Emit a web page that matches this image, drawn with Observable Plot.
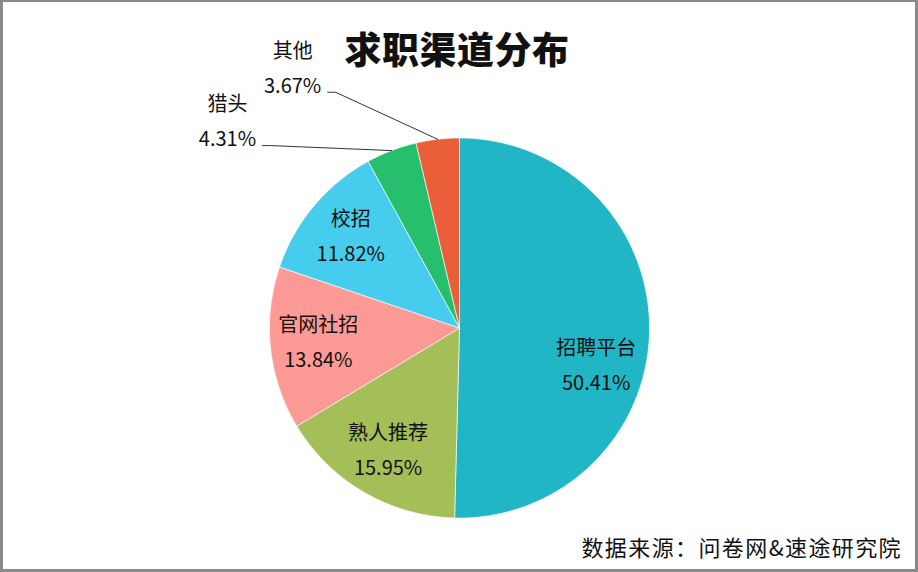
<!DOCTYPE html>
<html>
<head>
<meta charset="utf-8">
<script src="https://cdn.jsdelivr.net/npm/d3@7"></script>
<script src="https://cdn.jsdelivr.net/npm/@observablehq/plot@0.6"></script>
<style>
  html, body { margin: 0; padding: 0; background: #fff; }
  #wrap { position: relative; width: 918px; height: 572px; overflow: hidden; font-family: "Noto Sans CJK SC", "Noto Sans", sans-serif; }
  #wrap svg { position: absolute; left: 0; top: 0; }
  #frame { position: absolute; left: 0; top: 0; width: 918px; height: 572px; box-sizing: border-box;
           border: 3px solid #898989; border-top-width: 2px; pointer-events: none; }
  #title { position: absolute; left: 0; width: 914px; top: 30px; text-align: center; font-size: 37px; font-weight: 900; line-height: 37px; color: #111; letter-spacing: 0.5px; }
  #caption { position: absolute; right: 16px; top: 535px; font-size: 22px; line-height: 22px; color: #111; letter-spacing: 1.4px; }
</style>
</head>
<body>
<div id="wrap">
  <div id="title">求职渠道分布</div>
  <div id="caption">数据来源：问卷网&amp;速途研究院</div>
  <div id="frame"></div>
</div>
<script>
// ---- data ----
const categories = ["招聘平台", "熟人推荐", "官网社招", "校招", "猎头", "其他"];
const shares = [50.41, 15.95, 13.84, 11.82, 4.31, 3.67];
const colors = ["#21b6c6", "#a4be58", "#fd9a96", "#46cdee", "#26bf6e", "#ea5f3a"];
const outsideLabels = ["猎头", "其他"];

// ---- layout constants ----
const W = 918, H = 572;
const cx = 459, cy = 327.5, R = 190;
const labelR = 142;
const labelNudgeDeg = {"招聘平台": 15};          // best-fit label shift for the big slice
const outsideElbow = {"猎头": [-121, -5], "其他": [-102, -47]}; // relative to arc point
const lineGap = 35;

const rows = categories.map((c, i) => ({name: c, value: shares[i]}));
const arcs = d3.pie().sort(null).value(d => d.value)(rows);

const polar = (theta, r) => [r * Math.sin(theta), -r * Math.cos(theta)];

// slice polygons
const poly = [];
for (const a of arcs) {
  const n = Math.max(2, Math.ceil((a.endAngle - a.startAngle) / (Math.PI / 360)));
  poly.push({name: a.data.name, x: 0, y: 0});
  for (let k = 0; k <= n; k++) {
    const t = a.startAngle + (a.endAngle - a.startAngle) * k / n;
    const [x, y] = polar(t, R);
    poly.push({name: a.data.name, x, y});
  }
  poly.push({name: a.data.name, x: 0, y: 0});
}

// labels
const labels = [];
const leaders = [];
for (const a of arcs) {
  const name = a.data.name;
  const pct = a.data.value.toFixed(2) + "%";
  const mid = (a.startAngle + a.endAngle) / 2;
  if (outsideLabels.includes(name)) {
    const [ax, ay] = polar(mid, R);
    const [ex, ey] = [ax + outsideElbow[name][0], ay + outsideElbow[name][1]];
    const [tx, ty] = [ex - 8, ey];
    leaders.push({name, x: ax, y: ay, i: 0}, {name, x: ex, y: ey, i: 1}, {name, x: tx, y: ty, i: 2});
    const lx = tx - 35, ly = ty - 23;
    labels.push({text: name, x: lx, y: ly - lineGap / 2});
    labels.push({text: pct, x: lx, y: ly + lineGap / 2});
  } else {
    const ang = mid + (labelNudgeDeg[name] || 0) * Math.PI / 180;
    const [lx, ly] = polar(ang, labelR);
    labels.push({text: name, x: lx, y: ly - lineGap / 2});
    labels.push({text: pct, x: lx, y: ly + lineGap / 2});
  }
}

const chart = Plot.plot({
  width: W,
  height: H,
  margin: 0,
  x: {domain: [-cx, W - cx], range: [0, W], axis: null},
  y: {domain: [-cy, H - cy], range: [0, H], axis: null},
  color: {domain: categories, range: colors},
  style: {background: "transparent", fontFamily: "'Noto Sans CJK SC', 'Noto Sans', sans-serif"},
  marks: [
    Plot.line(poly, {x: "x", y: "y", z: "name", fill: "name", stroke: "#ffffff", strokeWidth: 0.8, strokeOpacity: 0.8, curve: "linear"}),
    Plot.line(leaders, {x: "x", y: "y", z: "name", stroke: "#333", strokeWidth: 1}),
    Plot.text(labels, {x: "x", y: "y", text: "text", fontSize: 20, fill: "#111", textAnchor: "middle", lineAnchor: "middle"})
  ]
});

document.getElementById("wrap").insertBefore(chart, document.getElementById("title"));
</script>
</body>
</html>
